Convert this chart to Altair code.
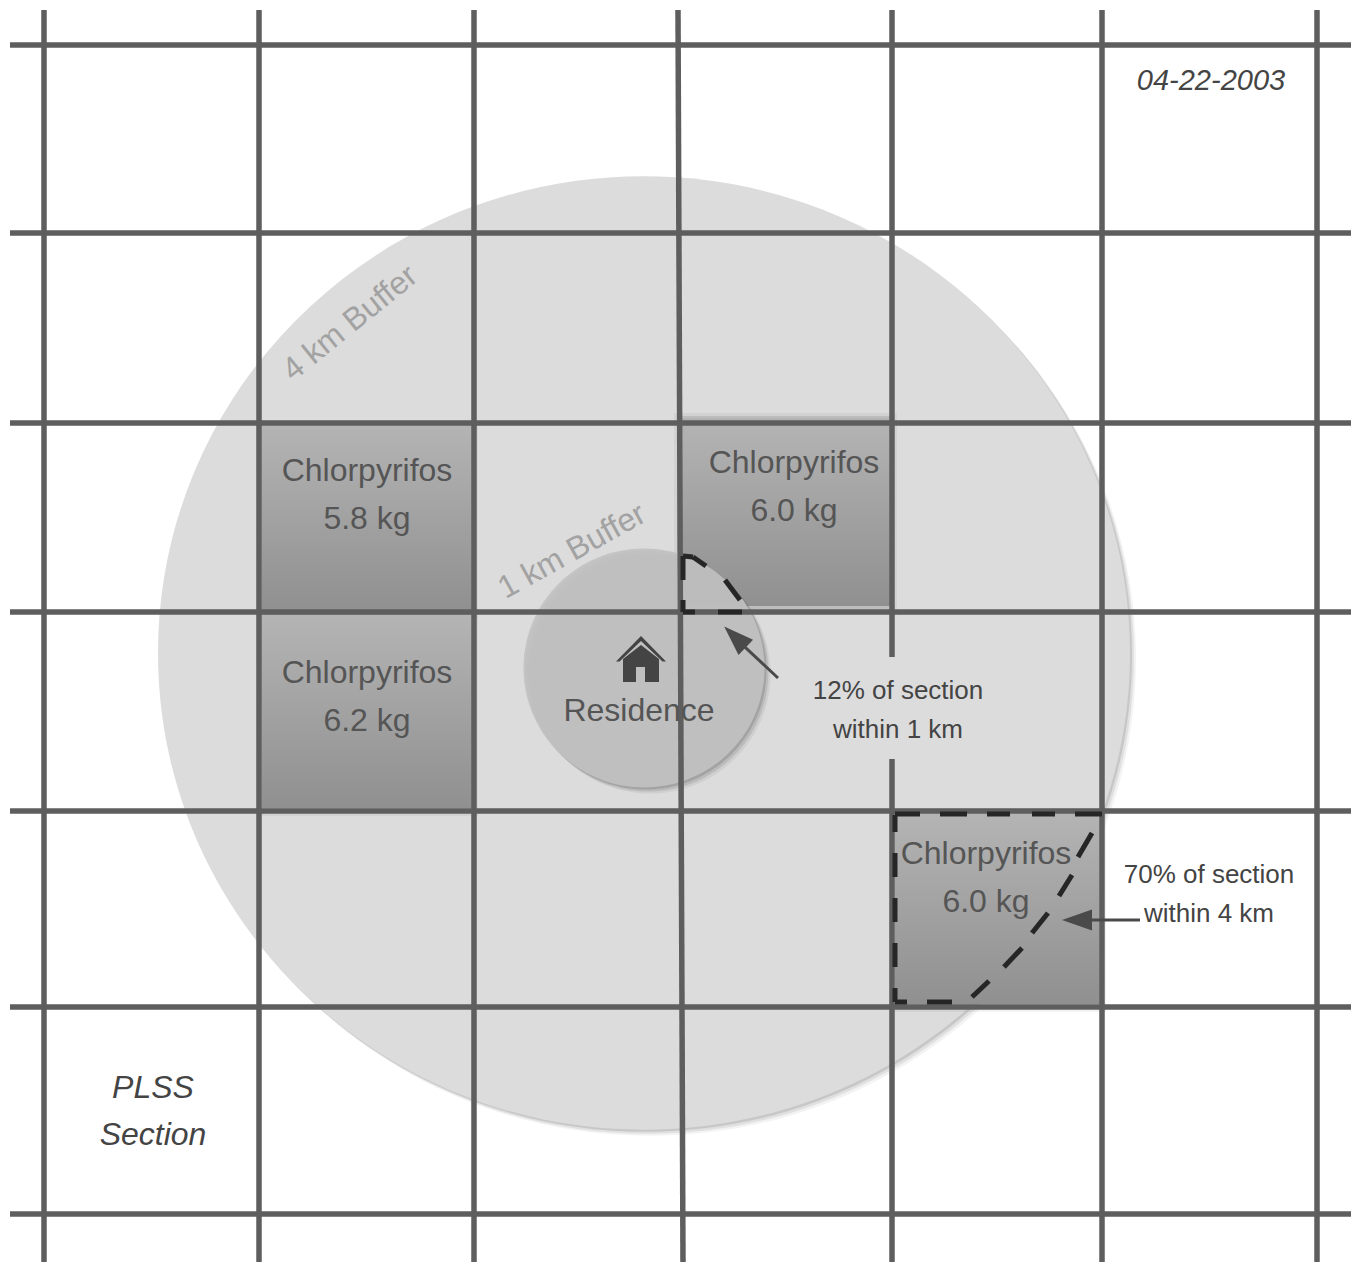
import altair as alt
import pandas as pd

X_DOMAIN = [8, 1352]
Y_DOMAIN = [1262, 8]

# grid lines (image pixel scale)
v_x = [44, 259, 474, 678, 892, 892, 1102, 1317]
v_x2 = [44, 259, 474, 683, 892, 892, 1102, 1317]
v_y = [10, 10, 10, 10, 10, 759, 10, 10]
v_y2 = [1262, 1262, 1262, 1262, 657, 1262, 1262, 1262]
h_y = [45, 233, 423, 612, 811, 1007, 1214]
h_left = 10
h_right = 1351

# buffers
big_center = (644, 653)
small_center = (644, 668)

# treated sections
sec_x = [262, 262, 680, 895]
sec_x2 = [472, 472, 891, 1100]
sec_y = [425, 616, 418, 813]
sec_y2 = [610, 808, 606, 1004]

# dash strokes of the two outlines, as seen in the picture
dash_x = [683, 683, 693, 725, 718, 683, 683,
          895, 940, 987, 1032, 1075,
          895, 895, 895, 895, 895,
          895, 927,
          972, 1004, 1032, 1059, 1078]
dash_x2 = [683, 693, 706, 740, 742, 695, 683,
           920, 967, 1010, 1055, 1102,
           895, 895, 895, 895, 895,
           907, 952,
           989, 1022, 1048, 1072, 1092]
dash_y = [580, 556, 557, 580, 612, 612, 600,
          814, 814, 814, 814, 814,
          815, 853, 898, 943, 988,
          1002, 1002,
          997, 967, 933, 896, 857]
dash_y2 = [556, 557, 566, 600, 612, 612, 612,
           814, 814, 814, 814, 814,
           832, 877, 922, 967, 1002,
           1002, 1002,
           981, 948, 913, 875, 833]

# arrows
a1_x = [778, 732]
a1_y = [678, 635]
a2_x = [1140, 1085]
a2_y = [920, 920]
head_x = [735, 1077]
head_y = [637, 920]
head_angle = [314, 270]

# labels
t_text = ["Chlorpyrifos", "5.8 kg", "Chlorpyrifos", "6.2 kg", "Chlorpyrifos", "6.0 kg",
          "Chlorpyrifos", "6.0 kg", "Residence"]
t_x = [367, 367, 367, 367, 794, 794, 986, 986, 639]
t_y = [471, 519, 673, 721, 463, 511, 854, 902, 711]
n_text = ["12% of section", "within 1 km", "70% of section", "within 4 km"]
n_x = [898, 898, 1209, 1209]
n_y = [691, 730, 875, 914]
i_text = ["PLSS", "Section"]
i_x = [153, 153]
i_y = [1088, 1135]
date_text = ["04-22-2003"]
date_x = [1211]
date_y = [81]
r_text = ["4 km Buffer", "1 km Buffer"]
r_x = [350, 572]
r_y = [323, 551]
r_angle = [321, 331]

GRID = "#5e5e5e"
SX = alt.Scale(domain=X_DOMAIN, nice=False, zero=False)
SY = alt.Scale(domain=Y_DOMAIN, nice=False, zero=False)
XE = alt.X("x:Q", scale=SX, axis=None)
YE = alt.Y("y:Q", scale=SY, axis=None)


def ellipse(ry):
    return f"M-1,0A1,{ry},0,1,1,1,0A1,{ry},0,1,1,-1,0Z"


def circle(center, dx, dy, width, ry, color, opacity=1.0):
    df = pd.DataFrame({"x": [center[0] + dx], "y": [center[1] + dy]})
    return alt.Chart(df).mark_point(
        shape=ellipse(ry), filled=True, size=width ** 2, color=color, opacity=opacity, strokeWidth=0
    ).encode(x=XE, y=YE)


def rects(dx0, dx1, dy0, dy1, **kw):
    df = pd.DataFrame({
        "x": [v + dx0 for v in sec_x], "x2": [v + dx1 for v in sec_x2],
        "y": [v + dy0 for v in sec_y], "y2": [v + dy1 for v in sec_y2],
    })
    return alt.Chart(df).mark_rect(**kw).encode(x=XE, x2="x2:Q", y=YE, y2="y2:Q")


def texts(words, xs, ys, **kw):
    df = pd.DataFrame({"x": xs, "y": ys, "t": words})
    return alt.Chart(df).mark_text(align="center", baseline="middle", **kw).encode(x=XE, y=YE, text="t:N")


layers = [
    circle(big_center, 6, 6, 972, 0.981, "#888888", 0.10),
    circle(big_center, 4, 4, 972, 0.981, "#888888", 0.18),
    circle(big_center, 2, 2, 972, 0.981, "#888888", 0.28),
    circle(big_center, 0, 0, 972, 0.981, "#dcdcdc"),
    rects(-6, 6, -5, 8, color="#606060", opacity=0.08),
    rects(-3, 3, -2, 5, color="#606060", opacity=0.18),
    rects(0, 0, 0, 0, fill={
        "gradient": "linear", "x1": 0, "x2": 0, "y1": 0, "y2": 1,
        "stops": [{"offset": 0, "color": "#b4b4b4"}, {"offset": 1, "color": "#909090"}],
    }),
    circle(small_center, 6, 6, 241, 0.992, "#666666", 0.10),
    circle(small_center, 4, 4, 241, 0.992, "#666666", 0.18),
    circle(small_center, 2, 2, 241, 0.992, "#666666", 0.28),
    circle(small_center, 0, 0, 241, 0.992, "#c1c1c1", 0.92),
]

v_df = pd.DataFrame({"x": v_x, "x2": v_x2, "y": v_y, "y2": v_y2})
layers.append(alt.Chart(v_df).mark_rule(color=GRID, strokeWidth=5.5).encode(x=XE, x2="x2:Q", y=YE, y2="y2:Q"))
h_df = pd.DataFrame({"y": h_y, "x": [h_left] * len(h_y), "x2": [h_right] * len(h_y)})
layers.append(alt.Chart(h_df).mark_rule(color=GRID, strokeWidth=5.5).encode(x=XE, x2="x2:Q", y=YE))

d_df = pd.DataFrame({"x": dash_x, "x2": dash_x2, "y": dash_y, "y2": dash_y2})
layers.append(alt.Chart(d_df).mark_rule(color="#262626", strokeWidth=5, strokeCap="butt").encode(
    x=XE, x2="x2:Q", y=YE, y2="y2:Q"))

for ax, ay in ((a1_x, a1_y), (a2_x, a2_y)):
    adf = pd.DataFrame({"x": ax, "y": ay, "o": [0, 1]})
    layers.append(alt.Chart(adf).mark_line(color="#4a4a4a", strokeWidth=3).encode(x=XE, y=YE, order="o:Q"))

ARROW = "M0,-1L0.7,1L-0.7,1Z"
head_df = pd.DataFrame({"x": head_x, "y": head_y, "a": head_angle})
layers.append(alt.Chart(head_df).mark_point(
    shape=ARROW, filled=True, size=900, color="#4a4a4a", strokeWidth=0, opacity=1
).encode(x=XE, y=YE, angle=alt.Angle("a:Q", scale=None)))

HOUSE = ("M-0.72,0.92L-0.72,0L0,-0.56L0.72,0L0.72,0.92L0.16,0.92L0.16,0.32L-0.2,0.32L-0.2,0.92Z"
         "M-1,0.1L0,-0.92L1,0.1L0.86,0.1L0,-0.72L-0.86,0.1Z")
layers.append(alt.Chart(pd.DataFrame({"x": [641], "y": [659]})).mark_point(
    shape=HOUSE, filled=True, size=2500, color="#444444", strokeWidth=0, opacity=1
).encode(x=XE, y=YE))

FONT = "Liberation Sans"
layers += [
    texts(t_text, t_x, t_y, font=FONT, fontSize=32, color="#555555"),
    texts(n_text, n_x, n_y, font=FONT, fontSize=26, color="#444444"),
    texts(i_text, i_x, i_y, font=FONT, fontSize=32, fontStyle="italic", color="#444444"),
    texts(date_text, date_x, date_y, font=FONT, fontSize=29, fontStyle="italic", color="#444444"),
]
r_df = pd.DataFrame({"x": r_x, "y": r_y, "t": r_text, "a": r_angle})
layers.append(alt.Chart(r_df).mark_text(
    align="center", baseline="middle", font=FONT, fontSize=32, color="#a2a2a2"
).encode(x=XE, y=YE, text="t:N", angle=alt.Angle("a:Q", scale=None)))

chart = alt.layer(*layers).properties(
    width=1344, height=1254, padding=0, background="white",
    autosize=alt.AutoSizeParams(type="none"),
).configure_view(stroke=None)

chart.save("out.html", embed_options={"renderer": "svg", "actions": False})
